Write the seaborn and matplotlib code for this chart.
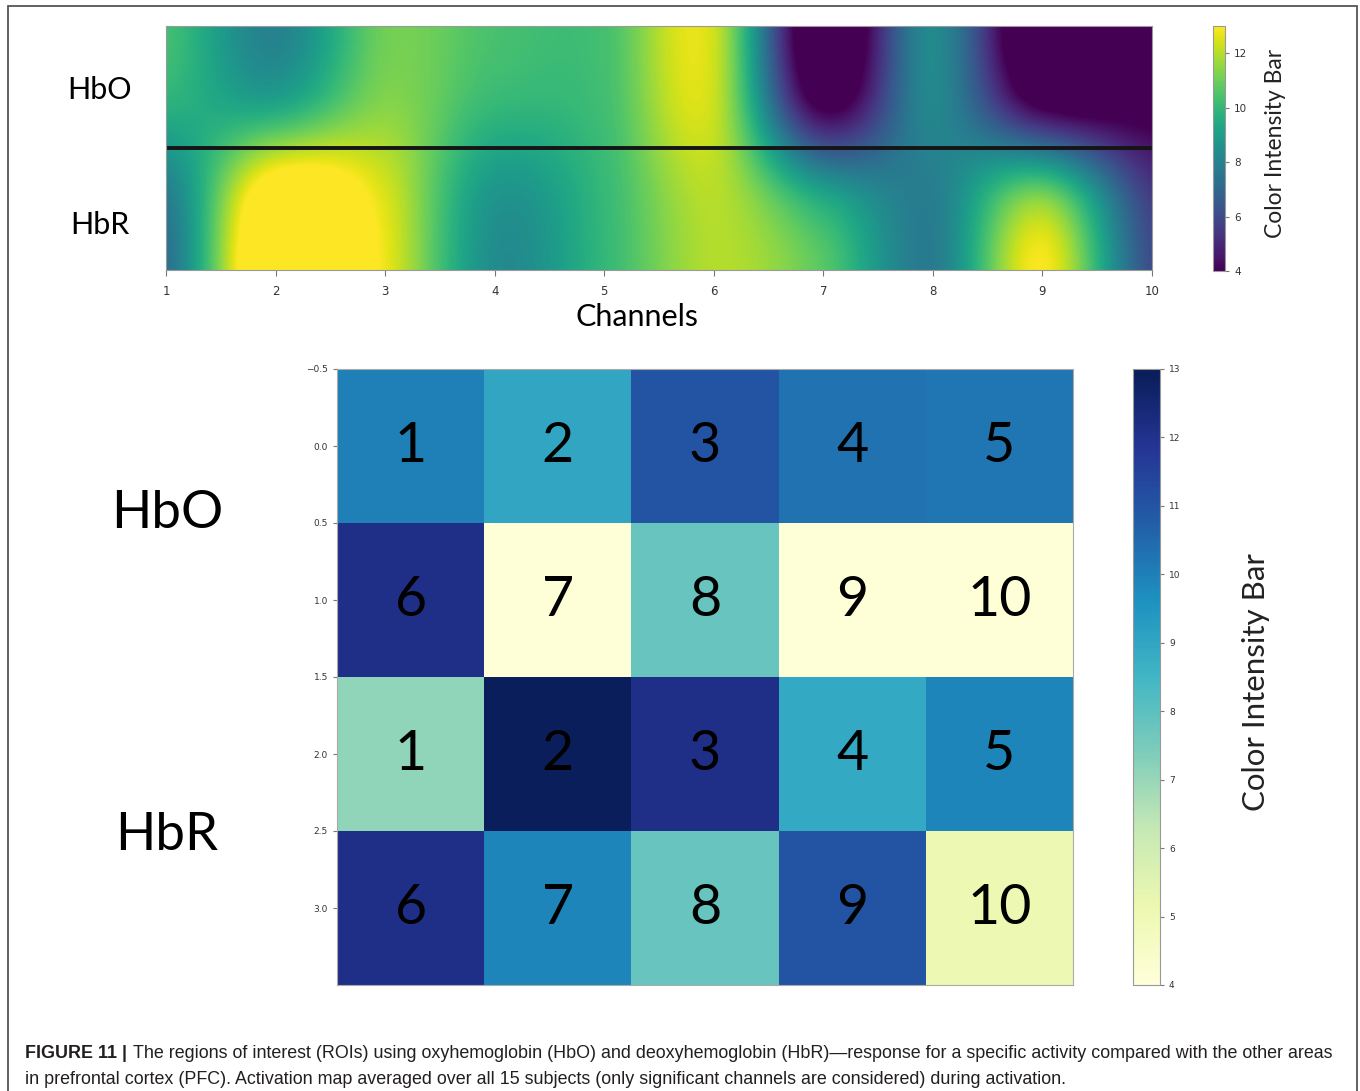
import numpy as np
import matplotlib
matplotlib.use('Agg')
import matplotlib.pyplot as plt
from matplotlib.patches import Rectangle
import seaborn as sns

# top strip: activation per channel (1..10)
# (values outside 4..13 are saturated in the picture)
channels = list(range(1, 11))
hbo_strip = [10.0, 8.7, 11.2, 10.2, 10.3, 12.3, 3.0, 8.2, 2.8, 3.2]
hbr_strip = [7.6, 14.5, 12.6, 8.6, 10.0, 12.0, 9.8, 7.8, 11.8, 5.8]
strip_rows = ['HbO', 'HbR']

# bottom grid: ROI values, 10 channels per chromophore laid out 2 x 5
roi_labels = [['1', '2', '3', '4', '5'], ['6', '7', '8', '9', '10'],
              ['1', '2', '3', '4', '5'], ['6', '7', '8', '9', '10']]
hbo_roi = [10.0, 9.0, 11.0, 10.3, 10.2, 12.1, 4.1, 7.8, 4.1, 4.1]
hbr_roi = [7.1, 12.9, 12.1, 8.9, 9.9, 12.1, 9.9, 7.8, 11.0, 5.1]

vmin, vmax = 4, 13
label_font = ['Lato', 'DejaVu Sans']

W, H = 1360, 1091
fig = plt.figure(figsize=(W / 100, H / 100), dpi=100)


def box(x0, y0, x1, y1):
    # pixel box (top-left origin) -> figure fraction rect
    return [x0 / W, 1 - y1 / H, (x1 - x0) / W, (y1 - y0) / H]


# ---- top panel: smooth interpolated strip
ax1 = fig.add_axes(box(166, 26, 1152, 270))
strip = np.array([hbo_strip, hbr_strip])
im = ax1.imshow(strip, cmap='viridis', vmin=vmin, vmax=vmax, aspect='auto',
                interpolation='catrom',
                extent=(channels[0] - 0.5, channels[-1] + 0.5, 0, 2))
ax1.set_xlim(channels[0], channels[-1])
ax1.set_ylim(0, 2)
ax1.axhline(1, color='#151515', lw=2.8)
ax1.set_xticks(channels)
ax1.set_xticklabels([str(c) for c in channels])
ax1.set_yticks([])
ax1.tick_params(axis='x', labelsize=8.5, length=4, width=0.8, color='#777',
                labelcolor='#333', pad=7)
for s in ax1.spines.values():
    s.set_color('#999')
    s.set_linewidth(0.8)

cax1 = fig.add_axes(box(1213, 26, 1225, 271))
cb1 = fig.colorbar(im, cax=cax1, ticks=[4, 6, 8, 10, 12])
cb1.outline.set_edgecolor('#999')
cb1.outline.set_linewidth(0.8)
cax1.tick_params(labelsize=7.5, length=3, width=0.8, color='#777', labelcolor='#333')

fig.text(100 / W, 1 - 90 / H, strip_rows[0], ha='center', va='center',
         fontsize=22, family=label_font)
fig.text(100 / W, 1 - 225 / H, strip_rows[1], ha='center', va='center',
         fontsize=22, family=label_font)
fig.text(637 / W, 1 - 317 / H, 'Channels', ha='center', va='center',
         fontsize=22, family=label_font)
fig.text(1276 / W, 1 - 143 / H, 'Color Intensity Bar', ha='center', va='center',
         rotation=90, fontsize=16.5, family=label_font, color='#222')

# ---- bottom panel: ROI heatmap
ax2 = fig.add_axes(box(337, 369, 1073, 985))
cax2 = fig.add_axes(box(1133, 369, 1160, 985))
grid = np.array(hbo_roi + hbr_roi).reshape(4, 5)
sns.heatmap(grid, cmap='YlGnBu', vmin=vmin, vmax=vmax, ax=ax2, cbar_ax=cax2,
            annot=np.array(roi_labels), fmt='',
            annot_kws={'size': 40, 'color': 'black', 'family': label_font},
            xticklabels=False, yticklabels=False,
            cbar_kws={'ticks': list(range(4, 14))})
yt = np.arange(0, 4, 0.5)
ax2.set_yticks(yt)
ax2.set_yticklabels([f'{v - 0.5:.1f}'.replace('-', '\u2212') for v in yt])
ax2.tick_params(axis='y', labelsize=6.5, length=3, width=0.8, color='#777',
                labelcolor='#333', left=True)
ax2.tick_params(axis='x', bottom=False)
for s in ax2.spines.values():
    s.set_visible(True)
    s.set_color('#aaa')
    s.set_linewidth(0.8)

cb2 = ax2.collections[0].colorbar
cb2.outline.set_visible(True)
cb2.outline.set_edgecolor('#999')
cb2.outline.set_linewidth(0.8)
cax2.tick_params(labelsize=6.5, length=3, width=0.8, color='#777', labelcolor='#333')

fig.text(167 / W, 1 - 513 / H, 'HbO', ha='center', va='center',
         fontsize=38, family=label_font)
fig.text(167 / W, 1 - 835 / H, 'HbR', ha='center', va='center',
         fontsize=38, family=label_font)
fig.text(1256 / W, 1 - 682 / H, 'Color Intensity Bar', ha='center', va='center',
         rotation=90, fontsize=22.5, family=label_font, color='#222')

# ---- frame and caption
fig.add_artist(Rectangle((8 / W, -0.05), (1357 - 8) / W, 1.05 - 6 / H,
                         transform=fig.transFigure, fill=False,
                         edgecolor='#555', lw=1.3))

cap_font = ['Liberation Sans', 'DejaVu Sans']
cap_size = 12.9
head = fig.text(25 / W, 1 - 1058 / H, 'FIGURE 11 |', ha='left', va='baseline',
                fontsize=cap_size, fontweight='bold', family=cap_font, color='#231f20')
ax1.annotate('The regions of interest (ROIs) using oxyhemoglobin (HbO) and '
             'deoxyhemoglobin (HbR)\u2014response for a specific activity '
             'compared with the other areas',
             xy=(1, 0), xycoords=head, xytext=(4, 0), textcoords='offset points',
             ha='left', va='bottom', fontsize=cap_size, family=cap_font,
             color='#231f20', annotation_clip=False)
fig.text(25 / W, 1 - 1084 / H,
         'in prefrontal cortex (PFC). Activation map averaged over all 15 subjects '
         '(only significant channels are considered) during activation.',
         ha='left', va='baseline', fontsize=cap_size, family=cap_font, color='#231f20')

fig.savefig('out.png', dpi=100)
